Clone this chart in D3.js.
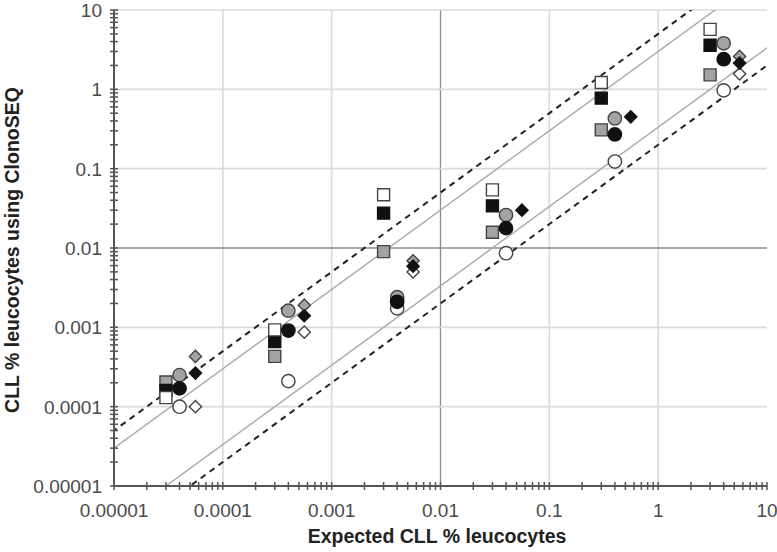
<!DOCTYPE html>
<html><head><meta charset="utf-8">
<script src="https://cdn.jsdelivr.net/npm/d3@7"></script>
<style>
html,body{margin:0;padding:0;background:#fff;}
svg{display:block;font-family:"Liberation Sans",Arial,sans-serif;}
</style></head>
<body><svg id="c" width="777" height="552"></svg>
<script>
// ---- data ----
const decadeTicks = [0.00001, 0.0001, 0.001, 0.01, 0.1, 1, 10];
const tickLabels = ["0.00001", "0.0001", "0.001", "0.01", "0.1", "1", "10"];
const xSquare  = [3e-5, 3e-4, 3e-3, 3e-2, 0.3, 3];
const xCircle  = [4e-5, 4e-4, 4e-3, 4e-2, 0.4, 4];
const xDiamond = [5.6e-5, 5.6e-4, 5.6e-3, 5.6e-2, 0.56, 5.6];
const openSquare   = [1.3e-4, 9.3e-4, 0.047, 0.054, 1.22, 5.7];
const blackSquare  = [1.6e-4, 6.6e-4, 0.0275, 0.034, 0.775, 3.6];
const graySquare   = [2.05e-4, 4.3e-4, 0.009, 0.0158, 0.308, 1.52];
const grayCircle   = [2.5e-4, 1.62e-3, 2.4e-3, 0.026, 0.43, 3.8];
const blackCircle  = [1.7e-4, 9.1e-4, 2.1e-3, 0.0178, 0.27, 2.4];
const openCircle   = [1.0e-4, 2.1e-4, 1.74e-3, 0.0086, 0.123, 0.97];
const grayDiamond  = [4.3e-4, 1.9e-3, 6.9e-3, null, null, 2.6];
const blackDiamond = [2.65e-4, 1.4e-3, 5.9e-3, 0.030, 0.45, 2.14];
const openDiamond  = [1.0e-4, 8.7e-4, 5.0e-3, null, null, 1.57];
const refFactors = [5, 3, 1/3, 1/5];
const xTitle = "Expected CLL % leucocytes";
const yTitle = "CLL % leucocytes using ClonoSEQ";

// ---- chart ----
const svg = d3.select("#c");
const x = d3.scaleLog().domain([1e-5, 10]).range([114, 767]);
const y = d3.scaleLog().domain([1e-5, 10]).range([486, 10]);

const minor = [];
for (let e = -5; e < 1; e++) for (let m = 2; m <= 9; m++) minor.push(m * Math.pow(10, e));

svg.append("defs").append("clipPath").attr("id","plot")
  .append("rect").attr("x",114).attr("y",10).attr("width",653).attr("height",476);

// gridlines
const grid = svg.append("g");
grid.selectAll("line.v").data(decadeTicks.slice(1, -1)).join("line")
  .attr("x1", d => x(d)).attr("x2", d => x(d)).attr("y1", y(10)).attr("y2", y(1e-5))
  .attr("stroke", d => d === 0.01 ? "#8c8c8c" : "#dadada").attr("stroke-width", d => d === 0.01 ? 1.3 : 1.6);
grid.selectAll("line.h").data(decadeTicks.slice(1)).join("line")
  .attr("y1", d => y(d)).attr("y2", d => y(d)).attr("x1", x(1e-5)).attr("x2", x(10))
  .attr("stroke", d => d === 0.01 ? "#8c8c8c" : "#dadada").attr("stroke-width", d => d === 0.01 ? 1.3 : 1.6);

// reference lines
const refG = svg.append("g").attr("clip-path","url(#plot)");
refFactors.forEach(f => {
  const dashed = (f === 5 || f === 0.2);
  refG.append("line")
    .attr("x1", x(1e-6)).attr("y1", y(1e-6 * f))
    .attr("x2", x(100)).attr("y2", y(100 * f))
    .attr("stroke", dashed ? "#222" : "#a8a8a8")
    .attr("stroke-width", dashed ? 2 : 1.4)
    .attr("stroke-dasharray", dashed ? "6,5" : null);
});

// axes
const axG = svg.append("g").attr("stroke","#555");
axG.append("line").attr("x1", x(1e-5)).attr("x2", x(10)).attr("y1", y(1e-5)).attr("y2", y(1e-5)).attr("stroke-width",2);
axG.append("line").attr("x1", x(1e-5)).attr("x2", x(1e-5)).attr("y1", y(10)).attr("y2", y(1e-5)).attr("stroke-width",2);
axG.selectAll("line.xt").data(decadeTicks.concat(minor)).join("line")
  .attr("x1", d => x(d)).attr("x2", d => x(d)).attr("y1", y(1e-5) - 4).attr("y2", y(1e-5) + 4).attr("stroke-width",1.5);
axG.selectAll("line.yt").data(decadeTicks.concat(minor)).join("line")
  .attr("y1", d => y(d)).attr("y2", d => y(d)).attr("x1", x(1e-5) - 4).attr("x2", x(1e-5) + 4).attr("stroke-width",1.5);

// tick labels
svg.append("g").selectAll("text").data(decadeTicks).join("text")
  .attr("x", d => x(d)).attr("y", 517).attr("text-anchor","middle")
  .attr("font-size", 19).attr("fill","#4a4a4a").text((d,i) => tickLabels[i]);
svg.append("g").selectAll("text").data(decadeTicks).join("text")
  .attr("x", 102).attr("y", d => y(d) + 7).attr("text-anchor","end")
  .attr("font-size", 19).attr("fill","#4a4a4a").text((d,i) => tickLabels[i]);

// titles
svg.append("text").attr("x", 437).attr("y", 543).attr("text-anchor","middle")
  .attr("font-size", 19.5).attr("font-weight","bold").attr("fill","#222").text(xTitle);
svg.append("text").attr("transform","translate(19,250) rotate(-90)").attr("text-anchor","middle")
  .attr("font-size", 19.5).attr("font-weight","bold").attr("fill","#222").text(yTitle);

// markers
const FILL = {open:"#ffffff", black:"#111111", gray:"#a3a3a3"};
const series = [
  {xs:xSquare, ys:graySquare, shape:"square", fill:"gray"},
  {xs:xSquare, ys:blackSquare, shape:"square", fill:"black"},
  {xs:xSquare, ys:openSquare, shape:"square", fill:"open"},
  {xs:xCircle, ys:openCircle, shape:"circle", fill:"open"},
  {xs:xCircle, ys:grayCircle, shape:"circle", fill:"gray"},
  {xs:xCircle, ys:blackCircle, shape:"circle", fill:"black"},
  {xs:xDiamond, ys:openDiamond, shape:"diamond", fill:"open"},
  {xs:xDiamond, ys:grayDiamond, shape:"diamond", fill:"gray"},
  {xs:xDiamond, ys:blackDiamond, shape:"diamond", fill:"black"}
];
const symType = {square: d3.symbolSquare, circle: d3.symbolCircle, diamond: d3.symbolDiamond2};
const symSize = {square: 144, circle: 140, diamond: 95};
const mk = svg.append("g");
series.forEach(s => {
  const pts = s.ys.map((v, i) => ({x: s.xs[i], y: v})).filter(p => p.y != null);
  mk.append("g").selectAll("path").data(pts).join("path")
    .attr("transform", p => `translate(${x(p.x)},${y(p.y)})`)
    .attr("d", d3.symbol().type(symType[s.shape]).size(symSize[s.shape]))
    .attr("fill", FILL[s.fill])
    .attr("stroke", s.fill === "black" ? "#111" : "#444")
    .attr("stroke-width", 1.4);
});
</script></body></html>
